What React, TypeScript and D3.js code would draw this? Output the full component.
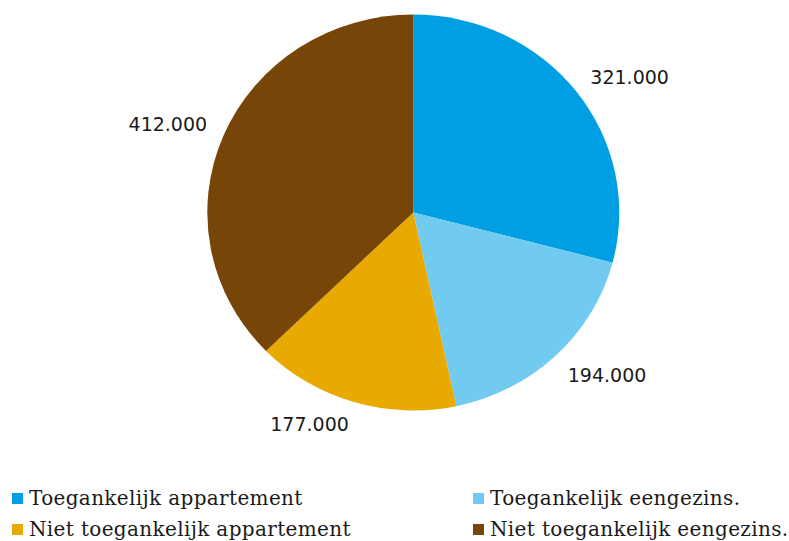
import React from "react";
import * as d3 from "d3";

const categories = [
  "Toegankelijk appartement",
  "Toegankelijk eengezins.",
  "Niet toegankelijk appartement",
  "Niet toegankelijk eengezins.",
];
const values = [321000, 194000, 177000, 412000];
const valueLabels = ["321.000", "194.000", "177.000", "412.000"];
const colors = ["#009FE3", "#71CBF0", "#E8AA00", "#774508"];
// legend order (row-major, two columns)
const legendOrder = [0, 1, 2, 3];

const W = 789;
const H = 541;
const cx = 413.3;
const cy = 212.5;
const rx = 206;
const ry = 198;

export default function App() {
  const pie = d3.pie<number>().sort(null).value((d) => d);
  const arcs = pie(values);
  const arc = d3.arc<d3.PieArcDatum<number>>().innerRadius(0).outerRadius(ry);
  const sx = rx / ry;

  return (
    <svg
      width={W}
      height={H}
      style={{ position: "absolute", left: 0, top: 0, background: "#fff" }}
    >
      <g transform={`translate(${cx},${cy}) scale(${sx},1)`}>
        {arcs.map((a, i) => (
          <path key={i} d={arc(a) || ""} fill={colors[i]} />
        ))}
      </g>
      {arcs.map((a, i) => {
        const mid = (a.startAngle + a.endAngle) / 2;
        const s = Math.sin(mid);
        const c = Math.cos(mid);
        const px = cx + (rx + 18) * s;
        const py = cy - (ry + 10) * c;
        const w = 78;
        const h = 20;
        const lx = px + Math.sign(s) * w / 2;
        const ly = py - Math.sign(c) * h / 2 + 2;
        return (
          <text
            key={i}
            x={lx}
            y={ly}
            textAnchor="middle"
            dominantBaseline="central"
            fontFamily="DejaVu Sans"
            fontSize={19}
            fill="#1a1a1a"
          >
            {valueLabels[i]}
          </text>
        );
      })}
      {legendOrder.map((idx, k) => {
        const col = k % 2;
        const row = Math.floor(k / 2);
        const x0 = col === 0 ? 12 : 473;
        const y0 = 493 + row * 31;
        return (
          <g key={idx}>
            <rect x={x0} y={y0} width={11} height={11} fill={colors[idx]} />
            <text
              x={x0 + 17}
              y={y0 + 12}
              fontFamily="DejaVu Serif"
              fontSize={20}
              letterSpacing={0.35}
              fill="#1a1a1a"
            >
              {categories[idx]}
            </text>
          </g>
        );
      })}
    </svg>
  );
}
